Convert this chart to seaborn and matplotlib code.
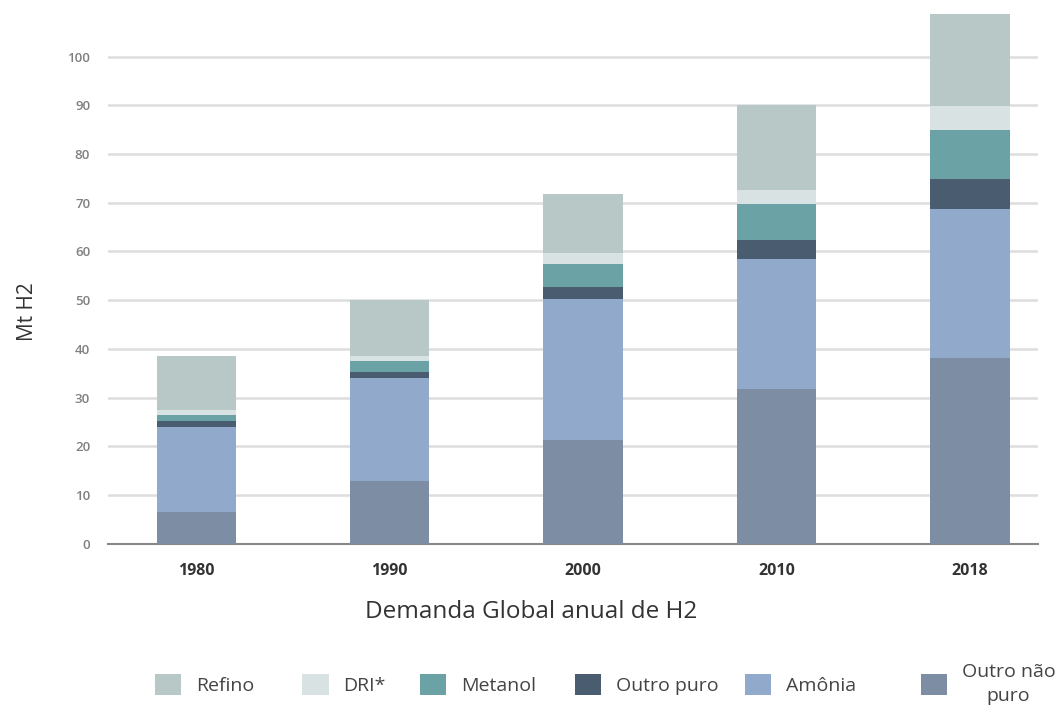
import numpy as np
import pandas as pd
import matplotlib
matplotlib.use("Agg")
import matplotlib.pyplot as plt
from matplotlib.patches import Patch
import seaborn as sns

# Global annual hydrogen demand (Mt H2), by end use
years = ["1980", "1990", "2000", "2010", "2018"]
outro_nao_puro = [6.6, 12.9, 21.4, 31.7, 38.1]
amonia = [17.4, 21.2, 28.8, 26.7, 30.6]
outro_puro = [1.2, 1.1, 2.5, 3.9, 6.1]
metanol = [1.2, 2.3, 4.8, 7.5, 10.2]
dri = [1.1, 1.1, 2.1, 2.9, 4.9]
refino = [11.1, 11.4, 12.2, 17.3, 18.9]

# stacking order, bottom to top
series = [
    ("Outro não\npuro", outro_nao_puro, "#7d8da3"),
    ("Amônia", amonia, "#91aacb"),
    ("Outro puro", outro_puro, "#4a5c70"),
    ("Metanol", metanol, "#6ba2a6"),
    ("DRI*", dri, "#d9e2e2"),
    ("Refino", refino, "#b8c8c6"),
]

sns.set_theme(style="white")
plt.rcParams["font.family"] = ["Open Sans", "DejaVu Sans"]

fig = plt.figure(figsize=(10.61, 7.09), dpi=100)
ax = fig.add_axes([0.102, 0.233, 0.876, 0.756])

# cumulative totals, drawn from the tallest down so each layer shows its own band
cum = np.cumsum(np.array([s[1] for s in series]), axis=0)
for i in range(len(series) - 1, -1, -1):
    df = pd.DataFrame({"ano": years, "valor": cum[i]})
    sns.barplot(data=df, x="ano", y="valor", order=years, color=series[i][2],
                width=0.41, saturation=1, edgecolor="none", linewidth=0,
                ax=ax, zorder=3)

ax.set_ylim(0, 110)
ax.set_xlim(-0.455, 4.35)
ax.set_yticks(np.arange(0, 101, 10))
ax.yaxis.grid(True, color="#dddddd", linewidth=1.8, zorder=0)
ax.xaxis.grid(False)
for side in ["top", "right", "left"]:
    ax.spines[side].set_visible(False)
ax.spines["bottom"].set_color("#888888")
ax.spines["bottom"].set_linewidth(1.5)
ax.tick_params(axis="y", length=0, labelsize=9.5, labelcolor="#808080", pad=13)
ax.tick_params(axis="x", length=0, labelsize=11.5, labelcolor="#333333", pad=14)
for lab in ax.get_yticklabels():
    lab.set_fontweight("semibold")
for lab in ax.get_xticklabels():
    lab.set_fontweight("bold")

ax.set_ylabel("Mt H2", fontsize=15, color="#333333")
ax.yaxis.set_label_coords(-0.076, 0.433)
ax.set_xlabel("Demanda Global anual de H2", fontsize=17.5, color="#333333")
ax.xaxis.label.set_va("center")
ax.xaxis.set_label_coords(0.4546, -0.127)

# legend row along the bottom, one entry per column
legend_order = ["Refino", "DRI*", "Metanol", "Outro puro", "Amônia", "Outro não\npuro"]
legend_x = [0.146, 0.285, 0.396, 0.542, 0.702, 0.868]
lookup = {name: color for name, _, color in series}
for name, x in zip(legend_order, legend_x):
    leg = fig.legend(handles=[Patch(facecolor=lookup[name], edgecolor="none", label=name)],
                     loc="center left", bbox_to_anchor=(x, 0.035), frameon=False,
                     fontsize=14, handlelength=1.35, handleheight=1.3,
                     handletextpad=0.75, borderpad=0, borderaxespad=0,
                     labelcolor="#444444")
    for t in leg.get_texts():
        t.set_multialignment("center")
        t.set_linespacing(1.45)

fig.savefig("out.png", dpi=100)
